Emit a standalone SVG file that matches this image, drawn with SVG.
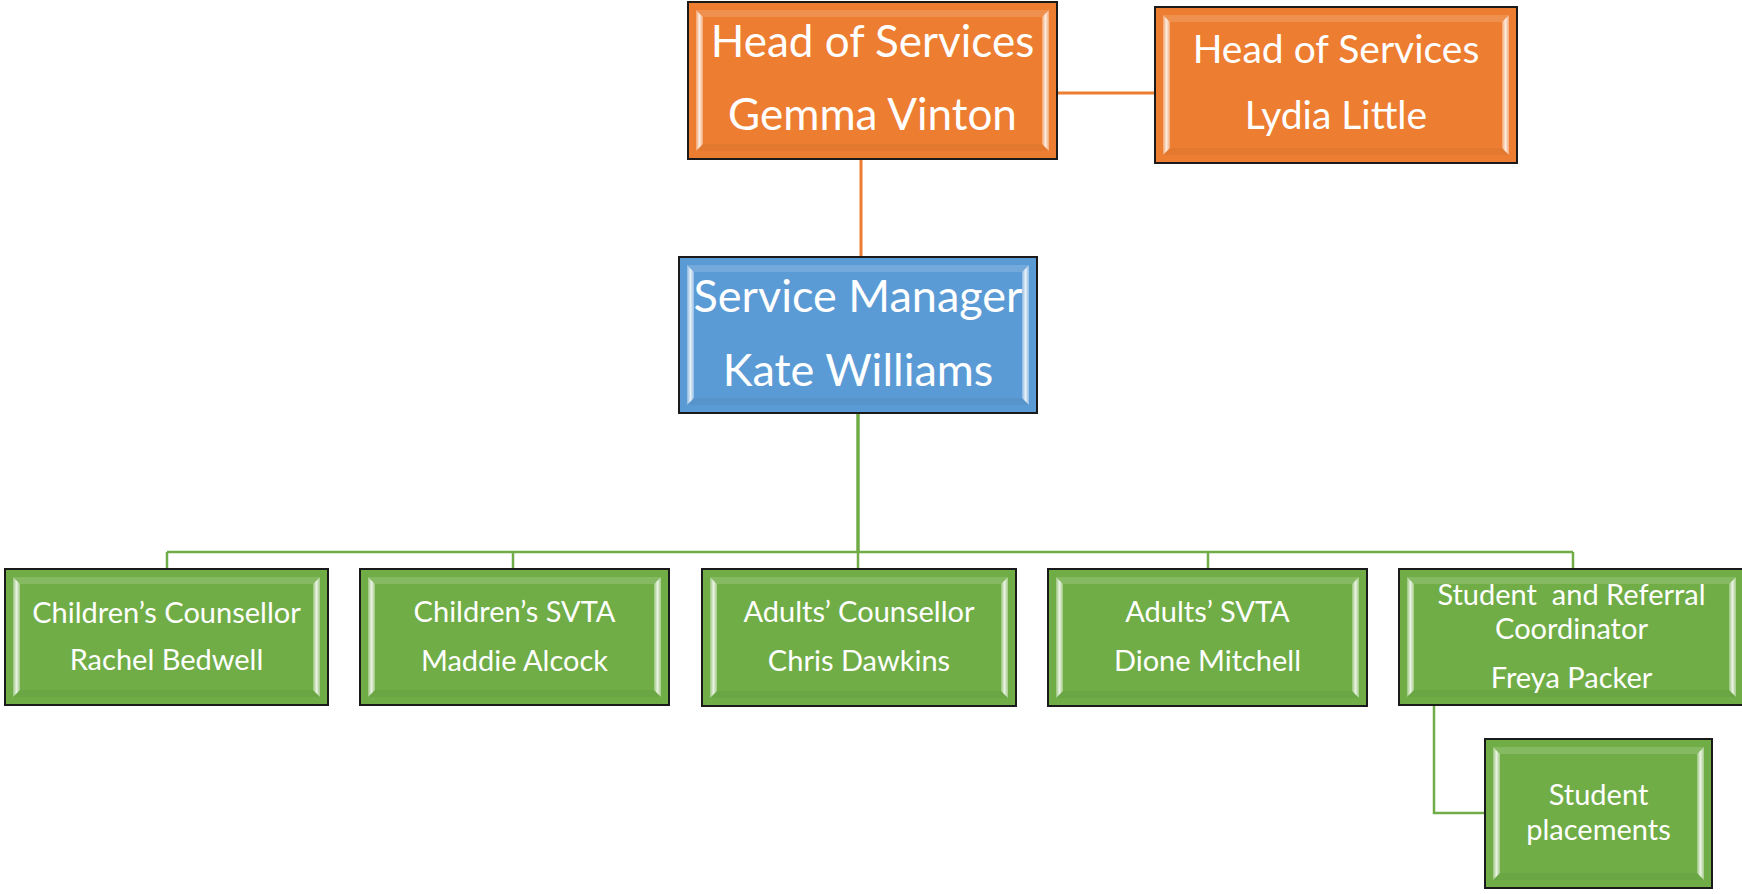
<svg xmlns="http://www.w3.org/2000/svg" width="1742" height="894" viewBox="0 0 1742 894">
<defs>
<linearGradient id="bevSide" x1="0" y1="0" x2="1" y2="0">
<stop offset="0" stop-color="#fff" stop-opacity="0.3"/>
<stop offset="0.5" stop-color="#fff" stop-opacity="0.85"/>
<stop offset="1" stop-color="#fff" stop-opacity="0.35"/>
</linearGradient>
<style>
.box{stroke:#1a1a1a;stroke-width:2}
.orange{fill:#ED7D31}
.blue{fill:#5B9BD5}
.green{fill:#70AD47}
.side{fill:url(#bevSide)}
.top{fill:#fff;fill-opacity:0.15}
.bot{fill:#000;fill-opacity:0.04}
text{font-family:Lato,"Open Sans","Liberation Sans",sans-serif;fill:#fff;text-anchor:middle}
.big{font-size:44px}
.kate{font-size:45px}
.mid{font-size:39px}
.sm{font-size:29px}
.conn-o{stroke:#ED7D31;stroke-width:3;fill:none}
.conn-g{stroke:#70AD47;stroke-width:2.5;fill:none}
</style>
</defs>
<rect width="1742" height="894" fill="#fff"/>
<g id="connectors">
<path class="conn-o" d="M1057,93 H1155"/>
<path class="conn-o" d="M861,159 V257"/>
<path class="conn-g" d="M858,413 V552" style="stroke-width:3.5"/>
<path class="conn-g" d="M167,552 H1573"/>
<path class="conn-g" d="M167,552 V569 M513,552 V569 M858,552 V569 M1208,552 V569 M1573,552 V569"/>
<path class="conn-g" d="M1434,705 V813 H1485"/>
</g>
<g id="head-gemma">
<rect class="box orange" x="688" y="2" width="369" height="157"/>
<path class="top" d="M696,10 L1049,10 L1042,17 L703,17 Z"/>
<path class="bot" d="M696,151 L1049,151 L1042,144 L703,144 Z"/>
<path class="side" d="M696,10 L703,17 L703,144 L696,151 Z"/>
<path class="side" d="M1049,10 L1042,17 L1042,144 L1049,151 Z"/>
<text class="big" x="872.5" y="57">Head of Services</text>
<text class="big" x="872.5" y="130">Gemma Vinton</text>
</g>
<g id="head-lydia">
<rect class="box orange" x="1155" y="7" width="362" height="156"/>
<path class="top" d="M1163,15 L1509,15 L1502,22 L1170,22 Z"/>
<path class="bot" d="M1163,155 L1509,155 L1502,148 L1170,148 Z"/>
<path class="side" d="M1163,15 L1170,22 L1170,148 L1163,155 Z"/>
<path class="side" d="M1509,15 L1502,22 L1502,148 L1509,155 Z"/>
<text class="mid" x="1336" y="63">Head of Services</text>
<text class="mid" x="1336" y="129">Lydia Little</text>
</g>
<g id="service-manager">
<rect class="box blue" x="679" y="257" width="358" height="156"/>
<path class="top" d="M687,265 L1029,265 L1022,272 L694,272 Z"/>
<path class="bot" d="M687,405 L1029,405 L1022,398 L694,398 Z"/>
<path class="side" d="M687,265 L694,272 L694,398 L687,405 Z"/>
<path class="side" d="M1029,265 L1022,272 L1022,398 L1029,405 Z"/>
<text class="kate" x="858" y="312">Service Manager</text>
<text class="kate" x="858" y="386">Kate Williams</text>
</g>
<g id="childrens-counsellor">
<rect class="box green" x="5" y="569" width="323" height="136"/>
<path class="top" d="M13,577 L320,577 L313,584 L20,584 Z"/>
<path class="bot" d="M13,697 L320,697 L313,690 L20,690 Z"/>
<path class="side" d="M13,577 L20,584 L20,690 L13,697 Z"/>
<path class="side" d="M320,577 L313,584 L313,690 L320,697 Z"/>
<text class="sm" x="166.5" y="623">Children’s Counsellor</text>
<text class="sm" x="166.5" y="670">Rachel Bedwell</text>
</g>
<g id="childrens-svta">
<rect class="box green" x="360" y="569" width="309" height="136"/>
<path class="top" d="M368,577 L661,577 L654,584 L375,584 Z"/>
<path class="bot" d="M368,697 L661,697 L654,690 L375,690 Z"/>
<path class="side" d="M368,577 L375,584 L375,690 L368,697 Z"/>
<path class="side" d="M661,577 L654,584 L654,690 L661,697 Z"/>
<text class="sm" x="514.5" y="622">Children’s SVTA</text>
<text class="sm" x="514.5" y="671">Maddie Alcock</text>
</g>
<g id="adults-counsellor">
<rect class="box green" x="702" y="569" width="314" height="137"/>
<path class="top" d="M710,577 L1008,577 L1001,584 L717,584 Z"/>
<path class="bot" d="M710,698 L1008,698 L1001,691 L717,691 Z"/>
<path class="side" d="M710,577 L717,584 L717,691 L710,698 Z"/>
<path class="side" d="M1008,577 L1001,584 L1001,691 L1008,698 Z"/>
<text class="sm" x="859" y="622">Adults’ Counsellor</text>
<text class="sm" x="859" y="671">Chris Dawkins</text>
</g>
<g id="adults-svta">
<rect class="box green" x="1048" y="569" width="319" height="137"/>
<path class="top" d="M1056,577 L1359,577 L1352,584 L1063,584 Z"/>
<path class="bot" d="M1056,698 L1359,698 L1352,691 L1063,691 Z"/>
<path class="side" d="M1056,577 L1063,584 L1063,691 L1056,698 Z"/>
<path class="side" d="M1359,577 L1352,584 L1352,691 L1359,698 Z"/>
<text class="sm" x="1207.5" y="622">Adults’ SVTA</text>
<text class="sm" x="1207.5" y="671">Dione Mitchell</text>
</g>
<g id="student-referral-coordinator">
<rect class="box green" x="1399" y="569" width="345" height="136"/>
<path class="top" d="M1407,577 L1736,577 L1729,584 L1414,584 Z"/>
<path class="bot" d="M1407,697 L1736,697 L1729,690 L1414,690 Z"/>
<path class="side" d="M1407,577 L1414,584 L1414,690 L1407,697 Z"/>
<path class="side" d="M1736,577 L1729,584 L1729,690 L1736,697 Z"/>
<text class="sm" x="1571.5" y="605" xml:space="preserve">Student  and Referral</text>
<text class="sm" x="1571.5" y="639">Coordinator</text>
<text class="sm" x="1571.5" y="688">Freya Packer</text>
</g>
<g id="student-placements">
<rect class="box green" x="1485" y="739" width="227" height="149"/>
<path class="top" d="M1493,747 L1704,747 L1697,754 L1500,754 Z"/>
<path class="bot" d="M1493,880 L1704,880 L1697,873 L1500,873 Z"/>
<path class="side" d="M1493,747 L1500,754 L1500,873 L1493,880 Z"/>
<path class="side" d="M1704,747 L1697,754 L1697,873 L1704,880 Z"/>
<text class="sm" x="1598.5" y="805">Student</text>
<text class="sm" x="1598.5" y="840">placements</text>
</g>
</svg>
